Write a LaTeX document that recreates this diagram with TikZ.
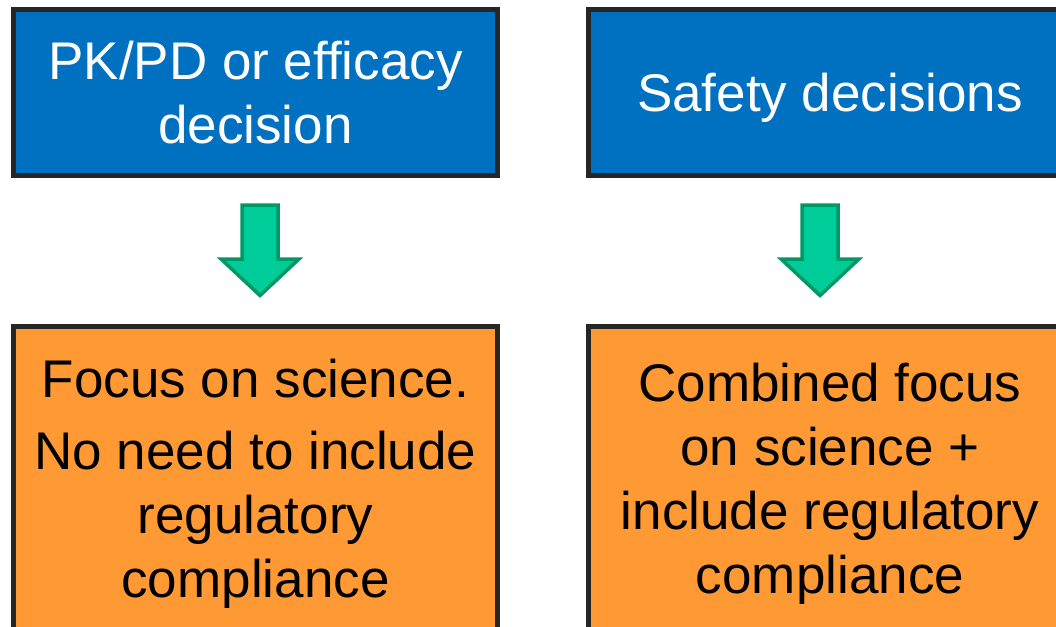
\documentclass[tikz,border=0pt]{standalone}
\usepackage{fontspec}
\setmainfont{Liberation Sans}

\definecolor{boxblue}{HTML}{0070C0}
\definecolor{boxorange}{HTML}{FF9933}
\definecolor{arrowfill}{HTML}{00CC99}
\definecolor{arrowline}{HTML}{009966}
\definecolor{boxline}{HTML}{262626}

\tikzset{
  decision/.style={draw=boxline, line width=5pt, fill=boxblue, text=white,
    align=center, inner sep=0pt, minimum width=484pt, minimum height=166pt,
    font=\fontsize{53}{64}\selectfont},
  focus/.style={decision, fill=boxorange, text=black, minimum height=314pt},
  downarrow/.style={draw=arrowline, fill=arrowfill, line width=3.5pt}
}

\begin{document}
\begin{tikzpicture}[x=1pt, y=-1pt]
    \useasboundingbox (0,0) rectangle (1056,626);
    \clip (0,0) rectangle (1056,626);

    \node[decision] (pk) at (255.5, 92.5) {PK/PD or efficacy\\decision};
    \node[decision, text depth=0pt] (safety) at (830, 92.5) {Safety decisions};

    \node[focus] (science) at (255.5, 483.5) {Focus on science.\\[8pt]No need to include\\regulatory\\compliance};
    \node[focus] (combined) at (830, 483.5) {Combined focus\\on science +\\include regulatory\\compliance};

    % block arrows between the rows
    \foreach \x/\name in {260/a1, 820/a2} {
        \coordinate (\name) at (\x, 205);
        \draw[downarrow] (\name) ++(-18,0) -- ++(36,0) -- ++(0,54) -- ++(21,0)
            -- ++(-39,36.5) -- ++(-39,-36.5) -- ++(21,0) -- cycle;
    }
\end{tikzpicture}
\end{document}
